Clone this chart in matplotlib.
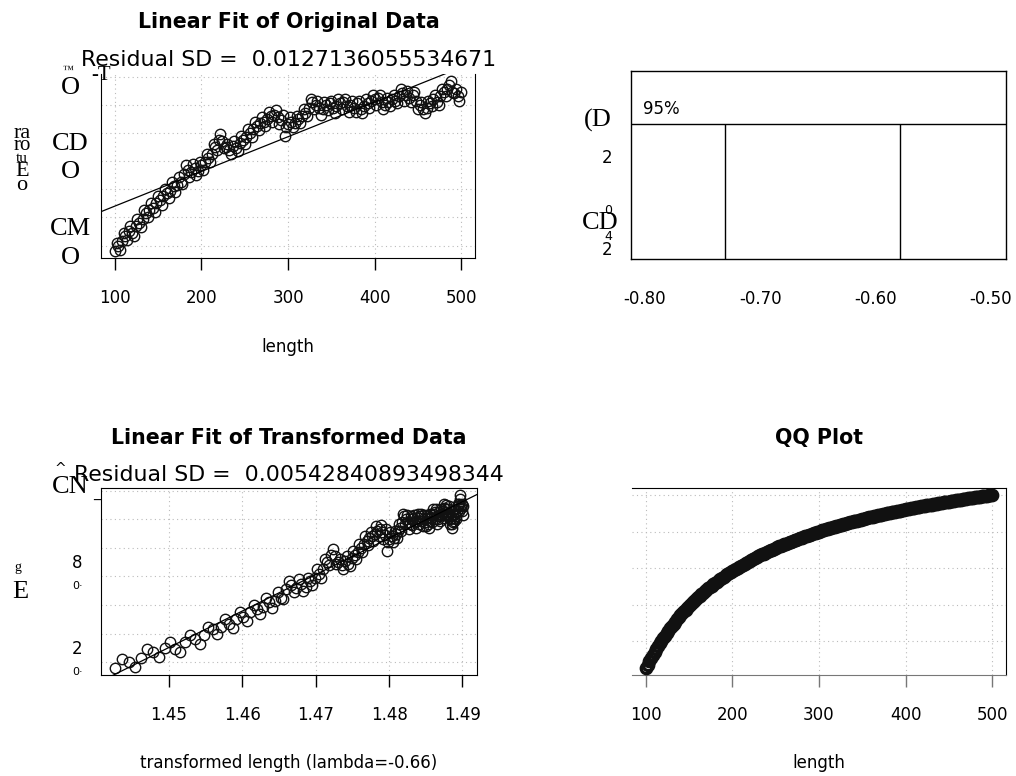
"""Box-Cox diagnostics: linear fits before/after transform, CI box and QQ plot."""

import numpy as np
import matplotlib
matplotlib.use("Agg")
from matplotlib import pyplot as plt

#-----------------------------------------------------------------------------
# Data
#-----------------------------------------------------------------------------

# lengths 100, 104, ..., 500
len_a = np.arange(100, 501, 4)
ratio_a_milli = [
    16, 20, 23, 27, 30, 29, 34, 36, 39, 43, 45, 47, 50, 52, 55, 57, 59, 62, 63, 65,
    71, 74, 72, 75, 73, 77, 79, 82, 85, 90, 95, 94, 90, 88, 91, 89, 93, 95, 97, 100,
    103, 105, 107, 108, 110, 112, 113, 111, 109, 98, 106, 108, 107, 110, 112, 114, 118,
    122, 120, 118, 117, 120, 121, 118, 119, 121, 122, 119, 120, 118, 121, 117, 119, 121,
    123, 124, 125, 122, 120, 122, 124, 123, 126, 128, 127, 125, 127, 123, 120, 117, 118,
    121, 124, 122, 126, 129, 131, 137, 128, 126, 129,
]
# lengths 102, 106, ..., 498
len_b = np.arange(102, 499, 4)
ratio_b_milli = [
    22, 17, 29, 24, 34, 27, 39, 33, 45, 40, 50, 44, 55, 49, 60, 54, 65, 58, 69, 64,
    77, 69, 78, 70, 79, 74, 85, 79, 92, 88, 99, 89, 92, 85, 94, 87, 98, 92, 103, 97,
    108, 102, 111, 105, 115, 108, 116, 106, 113, 104, 111, 104, 112, 107, 117, 112, 124,
    117, 123, 113, 122, 116, 123, 114, 124, 117, 124, 115, 123, 115, 123, 114, 124, 118,
    127, 120, 127, 117, 125, 119, 127, 121, 131, 123, 130, 122, 129, 117, 122, 114, 123,
    119, 127, 120, 131, 126, 134, 129, 131, 123,
]

length = np.concatenate([len_a, len_b])
ratio = np.array(ratio_a_milli + ratio_b_milli) / 1000.0

lam = -0.66
sd_orig_txt = "Residual SD =  0.0127136055534671"
sd_trans_txt = "Residual SD =  0.00542840893498344"

ci_lambda = [-0.730, -0.579]
ci_level = 0.72
lam_ticks = [-0.80, -0.70, -0.60, -0.50]
lam_lim = (-0.8118, -0.487)

len_ticks = [100, 200, 300, 400, 500]
t_ticks = [1.45, 1.46, 1.47, 1.48, 1.49]
ratio_grid = [0.02, 0.04, 0.06, 0.08, 0.10, 0.12, 0.14]

#-----------------------------------------------------------------------------
# Helpers
#-----------------------------------------------------------------------------

W, H = 1016, 776
SERIF = ["Liberation Serif", "DejaVu Serif"]


def rect(l, t, r, b):
    return [l / W, 1 - b / H, (r - l) / W, (b - t) / H]


def ftxt(fig, x, y, s, **kw):
    kw.setdefault("ha", "center")
    kw.setdefault("va", "center")
    fig.text(x / W, 1 - y / H, s, **kw)


def padded(v, frac=0.04):
    lo, hi = np.min(v), np.max(v)
    d = (hi - lo) * frac
    return lo - d, hi + d


def style_axes(ax, xticks, tick_color="black"):
    ax.set_xticks(xticks)
    ax.set_xticklabels([("%g" % v) for v in xticks], fontsize=12)
    ax.tick_params(axis="x", length=8.6, width=1.0, pad=14, color=tick_color)
    ax.tick_params(axis="y", length=0, labelleft=False)
    ax.grid(True, linestyle=(0, (1, 3)), color="#bbbbbb", linewidth=0.8)
    ax.set_axisbelow(True)


def scatter_fit(ax, x, y):
    ax.plot(x, y, "o", mfc="none", mec="#111111", mew=1.0, ms=7.5, zorder=3)
    b, a = np.polyfit(x, y, 1)
    xl = np.array(ax.get_xlim())
    ax.plot(xl, a + b * xl, color="black", lw=0.9, zorder=4)


#-----------------------------------------------------------------------------
# Figure
#-----------------------------------------------------------------------------

fig = plt.figure(figsize=(W / 100, H / 100), dpi=100)
t_len = (length ** lam - 1) / lam

# top left: original data
ax1 = fig.add_axes(rect(101, 74, 475, 258))
ax1.set_xlim(padded(length))
ax1.set_ylim(padded(ratio))
scatter_fit(ax1, length, ratio)
style_axes(ax1, len_ticks)
ax1.set_yticks(ratio_grid)
ax1.spines["top"].set_visible(False)
ftxt(fig, 289, 22, "Linear Fit of Original Data", fontsize=14.8, fontweight="bold")
ftxt(fig, 289, 60, sd_orig_txt, fontsize=15.8)
ftxt(fig, 288, 347, "length", fontsize=12)

# garbled y labels as they appear
ftxt(fig, 68, 70, "\u2122", fontsize=8, family=SERIF)
ftxt(fig, 101, 76, "-T", fontsize=15, family=SERIF)
for yy, s in [(88, "O"), (144, "CD"), (172, "O"), (229, "CM"), (258, "O")]:
    ftxt(fig, 70, yy, s, fontsize=19, family=SERIF)
for yy, s, fs in [(133, "ra", 16), (146, "ro", 15), (158, "tu", 11), (171, "E", 16), (186, "o", 16)]:
    ftxt(fig, 22, yy, s, fontsize=fs, family=SERIF)

# top right: lambda confidence interval box
ax2 = fig.add_axes(rect(631, 71, 1006, 259))
ax2.set_xlim(lam_lim)
ax2.set_ylim(0, 1)
ax2.axhline(ci_level, color="black", lw=1.0)
ax2.vlines(ci_lambda, 0, ci_level, color="black", lw=1.0)
ax2.text(lam_ticks[0] - 0.0015, ci_level + 0.03, "95%", fontsize=12, ha="left", va="bottom")
ax2.set_xticks(lam_ticks)
ax2.set_xticklabels(["%.2f" % v for v in lam_ticks], fontsize=12)
ax2.tick_params(axis="x", length=0, pad=22)
ax2.tick_params(axis="y", length=0, labelleft=False)
for s in ax2.spines.values():
    s.set_linewidth(1.0)
ftxt(fig, 598, 120, "(D", fontsize=19, family=SERIF)
ftxt(fig, 607, 158, "2", fontsize=12)
ftxt(fig, 600, 223, "CD", fontsize=19, family=SERIF)
ftxt(fig, 608, 211, "0", fontsize=9)
ftxt(fig, 608, 237, "4", fontsize=9)
ftxt(fig, 607, 250, "2", fontsize=12)

# bottom left: transformed data
ax3 = fig.add_axes(rect(101, 488, 477, 675))
ax3.set_xlim(padded(t_len))
ax3.set_ylim(padded(ratio))
scatter_fit(ax3, t_len, ratio)
style_axes(ax3, t_ticks)
ax3.set_xticklabels(["%.2f" % v for v in t_ticks], fontsize=12)
ax3.set_yticks(ratio_grid)
ftxt(fig, 289, 438, "Linear Fit of Transformed Data", fontsize=14.8, fontweight="bold")
ftxt(fig, 289, 475, sd_trans_txt, fontsize=15.8)
ftxt(fig, 289, 763, "transformed length (lambda=%.2f)" % lam, fontsize=12)
ftxt(fig, 60, 469, "^", fontsize=10)
ftxt(fig, 70, 487, "CN", fontsize=19, family=SERIF)
ftxt(fig, 97, 494, "_", fontsize=10)
ftxt(fig, 77, 563, "8", fontsize=12)
ftxt(fig, 78, 586, "0\u00b7", fontsize=8)
ftxt(fig, 77, 649, "2", fontsize=12)
ftxt(fig, 78, 672, "0\u00b7", fontsize=8)
ftxt(fig, 18, 568, "g", fontsize=10, family=SERIF)
ftxt(fig, 20, 592, "E", fontsize=19, family=SERIF)

# bottom right: QQ plot
ax4 = fig.add_axes(rect(632, 488, 1006, 675))
ax4.set_xlim(padded(length))
ax4.set_ylim(padded(t_len))
ax4.plot(length, t_len, "o", mfc="none", mec="#111111", mew=2.4, ms=7.5, zorder=3)
style_axes(ax4, len_ticks, tick_color="#777777")
ax4.set_yticks(t_ticks)
ax4.spines["left"].set_visible(False)
ax4.spines["bottom"].set_color("#777777")
ftxt(fig, 819, 438, "QQ Plot", fontsize=14.8, fontweight="bold")
ftxt(fig, 819, 763, "length", fontsize=12)

fig.savefig("out.png", dpi=100)
